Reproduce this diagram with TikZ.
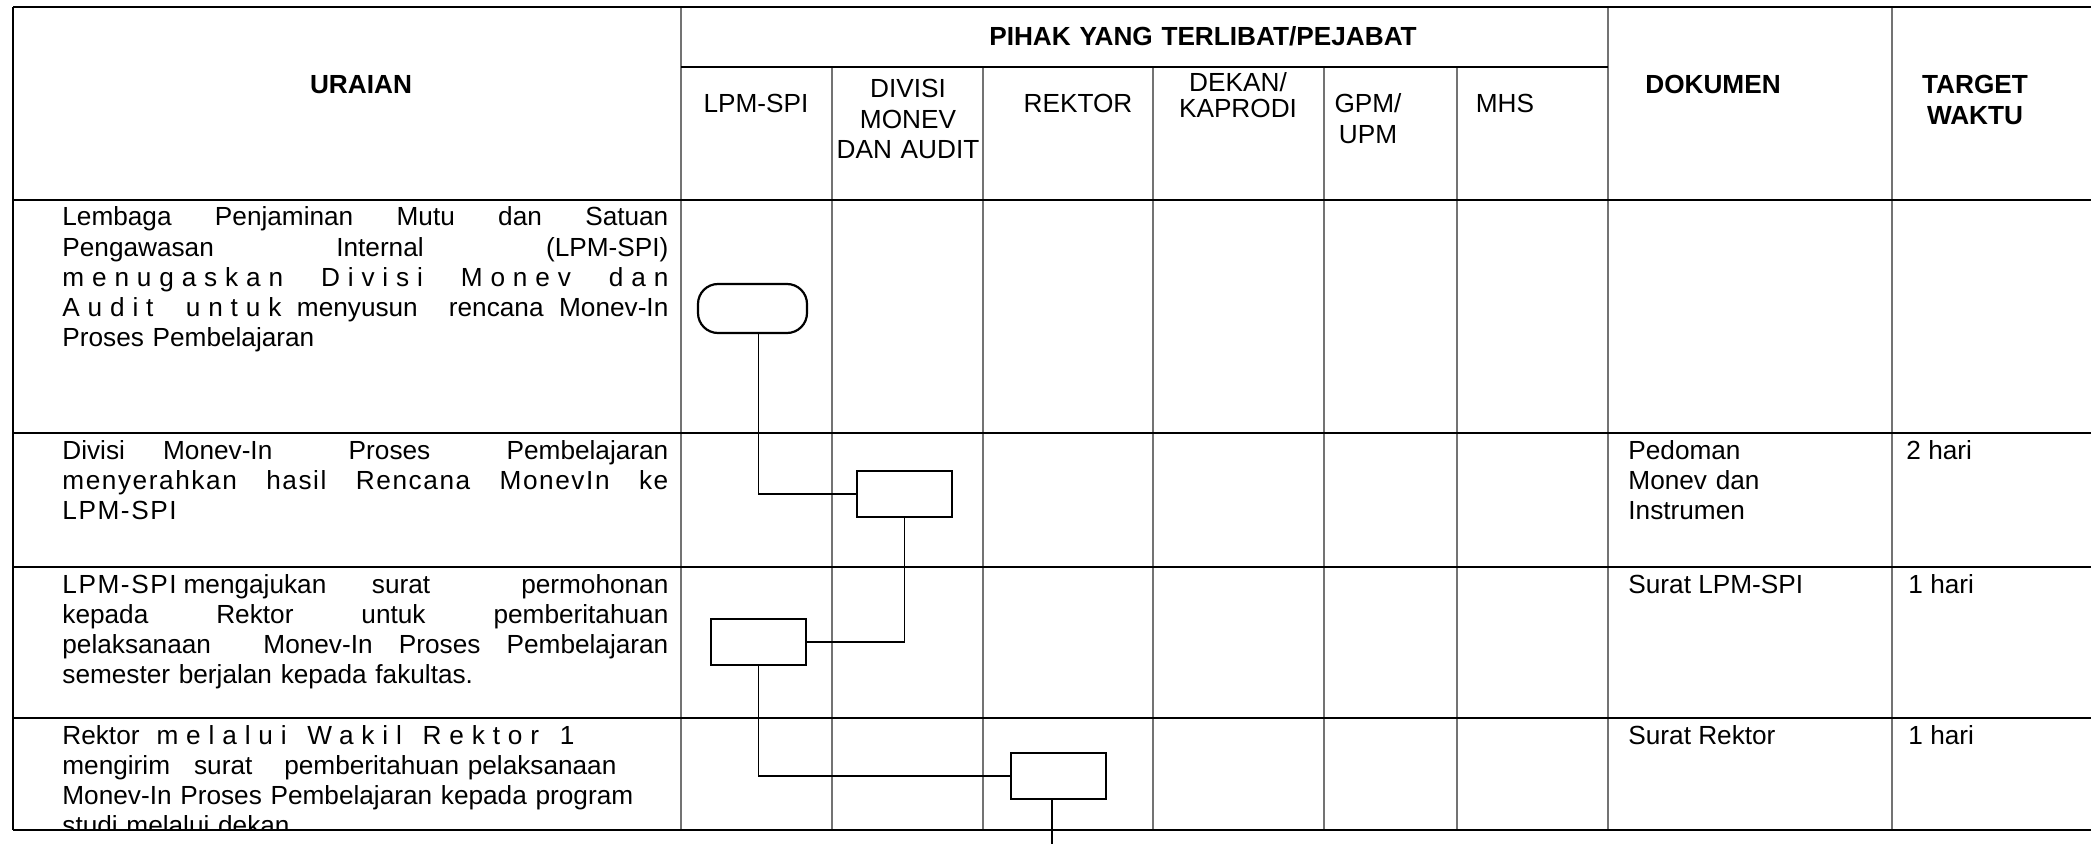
\documentclass[tikz,border=0pt]{standalone}
\usepackage{fontspec}
\setmainfont{Liberation Sans}
\newfontfamily\spaced[LetterSpace=30]{Liberation Sans}
\newfontfamily\lightspaced[LetterSpace=6]{Liberation Sans}
\newcommand{\jl}[1]{\makebox[303pt][s]{\spaceskip=0pt\xspaceskip=0pt #1}}
\tikzset{
    cell-text/.style = {inner sep=0pt, anchor=base west, align=left, font=\fontsize{13.1}{15.05}\selectfont},
    uraian-text/.style = {cell-text, text width=303pt},
    col-text/.style = {inner sep=0pt, anchor=base, text width=80pt, align=center, font=\fontsize{13.1}{15.05}\selectfont},
    head-text/.style = {col-text, font=\bfseries\fontsize{13.1}{15.05}\selectfont},
    grid-h/.style = {line width=1pt, black},
    grid-v/.style = {line width=1pt, black!55},
    flow-box/.style = {draw, line width=1.1pt, minimum width=47.5pt, minimum height=23pt, inner sep=0pt},
    flow-term/.style = {flow-box, rounded corners=10pt, minimum width=54.5pt, minimum height=24.5pt},
    flow-line/.style = {line width=0.9pt},
}

\begin{document}
\begin{tikzpicture}[x=0.5pt, y=-0.5pt]
\useasboundingbox (0,0) rectangle (2091,844);
\clip (0,0) rectangle (2091,844);

% table
\foreach \x in {681,1608,1892} \draw[grid-v] (\x,7) -- (\x,830);
\foreach \x in {832,983,1153,1324,1457} \draw[grid-v] (\x,67) -- (\x,830);
\foreach \y in {7,200,433,567,718,830} \draw[grid-h] (13,\y) -- (2100,\y);
\draw[grid-h] (681,67) -- (1608,67);
\draw[grid-h] (13,7) -- (13,830);

% headers
\node[head-text] (uraian) at (361,94) {URAIAN};
\node[head-text, text width=240pt] (pihak) at (1203,46) {PIHAK YANG TERLIBAT/PEJABAT};
\node[head-text] (dokumen) at (1713,94) {DOKUMEN};
\node[head-text] (target) at (1975,94) {TARGET\\WAKTU};
\node[col-text] (h-lpm) at (756,113) {LPM-SPI};
\node[col-text] (h-divisi) at (908,98) {DIVISI\\MONEV\\DAN AUDIT};
\node[col-text] (h-rektor) at (1078,113) {REKTOR};
\node[col-text] (h-dekan) at (1238,92) {DEKAN/\\[-2.5pt]KAPRODI};
\node[col-text] (h-gpm) at (1368,113) {GPM/\\UPM};
\node[col-text] (h-mhs) at (1505,113) {MHS};

% uraian
\node[uraian-text] (u1) at (62,226) {\jl{Lembaga Penjaminan Mutu dan Satuan}\\
    \jl{Pengawasan Internal (LPM-SPI)}\\
    \jl{\spaced menugaskan Divisi Monev dan}\\
    \jl{{\spaced Audit untuk} menyusun \ rencana Monev-In}\\
    Proses Pembelajaran};
\node[uraian-text] (u2) at (62,459) {\jl{Divisi Monev-In \ Proses \ Pembelajaran}\\
    \jl{\lightspaced menyerahkan hasil Rencana MonevIn ke}\\
    {\lightspaced LPM-SPI}};
\node[uraian-text] (u3) at (62,593) {\jl{{\lightspaced LPM-SPI}\hspace{3.5pt}mengajukan surat \ permohonan}\\
    \jl{kepada Rektor untuk pemberitahuan}\\
    \jl{pelaksanaan \ Monev-In Proses Pembelajaran}\\
    semester berjalan kepada fakultas.};
\begin{scope}
\clip (13,718) rectangle (681,830);
\node[uraian-text] (u4) at (62,744) {Rektor\hspace{8.5pt}{\spaced melalui\hspace{6pt} Wakil\hspace{6pt} Rektor\hspace{6pt} 1}\\
    mengirim\hspace{12pt}surat\hspace{16pt}pemberitahuan pelaksanaan\\
    Monev-In Proses Pembelajaran kepada program\\
    studi melalui dekan};
\end{scope}

% dokumen, waktu
\node[cell-text, text width=130pt] (d2) at (1628,459) {Pedoman\\Monev dan\\Instrumen};
\node[cell-text] (d3) at (1628,593) {Surat LPM-SPI};
\node[cell-text] (d4) at (1628,744) {Surat Rektor};
\node[cell-text] (w2) at (1906,459) {2 hari};
\node[cell-text] (w3) at (1908,593) {1 hari};
\node[cell-text] (w4) at (1908,744) {1 hari};

% flow
\node[flow-term] (start) at (752.5,308.5) {};
\node[flow-box] (divisi) at (904.5,494) {};
\node[flow-box] (lpm) at (758.5,642) {};
\node[flow-box] (rektor) at (1058.5,776) {};
\coordinate (next) at (1052,860);

\draw[flow-line] (start.south -| lpm.north) |- (divisi.west);
\draw[flow-line] (divisi.south) |- (lpm.east);
\draw[flow-line] (lpm.south) |- (rektor.west);
\draw[flow-line] (next |- rektor.south) -- (next);
\end{tikzpicture}
\end{document}
